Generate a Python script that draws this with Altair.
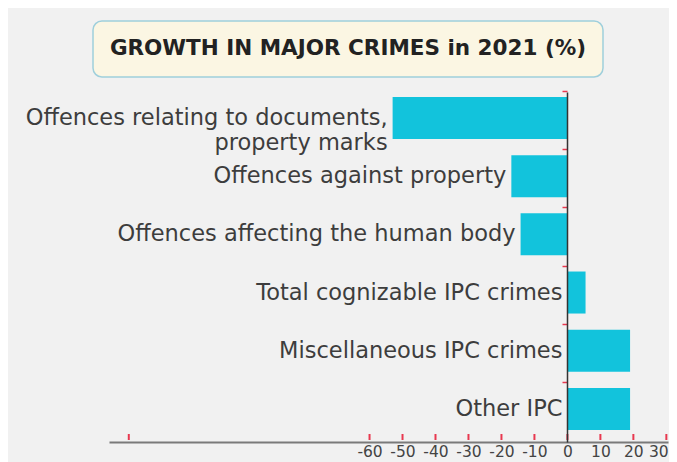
import altair as alt
import pandas as pd

categories = [
    "Offences relating to documents,\nproperty marks",
    "Offences against property",
    "Offences affecting the human body",
    "Total cognizable IPC crimes",
    "Miscellaneous IPC crimes",
    "Other IPC",
]
growth = [-53.0, -17.0, -14.2, 5.5, 19.0, 19.0]
axis_labels = [-60, -50, -40, -30, -20, -10, 0, 10, 20, 30]
red_ticks = [-133, -60, -50, -40, -30, -20, -10, 0, 10, 20, 30]
title_text = "GROWTH IN MAJOR CRIMES in 2021 (%)"

df = pd.DataFrame({"cat": categories, "v": growth})
ticks_df = pd.DataFrame({"t": red_ticks})

W, H = 559, 350
RED = "#e8384f"
CYAN = "#12c3dc"
FONT = "DejaVu Sans"

xscale = alt.Scale(domain=[-139, 30.5], nice=False, zero=False)
yscale = alt.Scale(domain=categories, paddingInner=0.278, paddingOuter=0.146, align=0.29)

x_axis = alt.Axis(values=axis_labels, ticks=False, grid=False, title=None,
                  domainColor="#7a7a7a", domainWidth=2, labelColor="#444444",
                  labelFont=FONT, labelFontSize=15.5, labelPadding=2,
                  labelExpr="'' + datum.value",
                  labelOffset={"condition": {"test": "datum.value == 30", "value": -8},
                               "value": 0})
y_axis = alt.Axis(labels=False, grid=False, title=None, domain=True,
                  domainColor="#333333", domainWidth=1.5, tickColor=RED,
                  tickSize=5, tickWidth=1.5, bandPosition=0, tickOffset=-6,
                  offset=-458, zindex=1)

base = alt.Chart(df)

bars = base.mark_bar(color=CYAN).encode(
    x=alt.X("v:Q", scale=xscale, axis=x_axis),
    y=alt.Y("cat:N", scale=yscale, axis=y_axis, sort=categories),
)

labels = base.transform_calculate(lx="min(datum.v, 0)").mark_text(
    align="right", baseline="middle", dx=-5, font=FONT, fontSize=22.5,
    color="#3d3d3d", lineBreak="\n", lineHeight=25,
).encode(
    x=alt.X("lx:Q", scale=xscale),
    y=alt.Y("cat:N", scale=yscale, sort=categories),
    text="cat:N",
)

tick_marks = alt.Chart(ticks_df).mark_rule(color=RED, strokeWidth=2).encode(
    x=alt.X("t:Q", scale=xscale),
    y=alt.value(H - 8),
    y2=alt.value(H - 2),
)

one = alt.Data(values=[{"a": 1}])
title_box = alt.Chart(one).mark_rect(
    fill="#fbf6e3", stroke="#9fcfdc", strokeWidth=1.5, cornerRadius=9,
).encode(
    x=alt.value(-16), x2=alt.value(494), y=alt.value(-71), y2=alt.value(-15),
)
title_mark = alt.Chart(one).mark_text(
    font=FONT, fontSize=21.5, fontWeight="bold", color="#222222",
    align="center", baseline="middle",
).encode(
    x=alt.value(239), y=alt.value(-43), text=alt.value(title_text),
)

chart = alt.layer(title_box, title_mark, bars, labels, tick_marks).properties(
    width=W, height=H,
    background="#f1f1f1",
    autosize=alt.AutoSizeParams(type="none"),
    padding={"left": 101, "top": 84, "right": 1, "bottom": 20},
).configure_view(strokeWidth=0)

chart.save("out.html", embed_options={"renderer": "svg", "actions": False})
